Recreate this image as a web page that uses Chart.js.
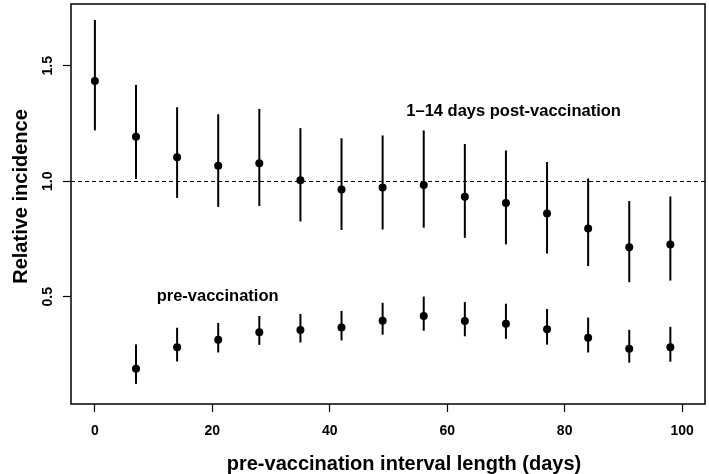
<!DOCTYPE html>
<html>
<head>
<meta charset="utf-8">
<script src="https://cdn.jsdelivr.net/npm/chart.js@4.4.1/dist/chart.umd.min.js"></script>
<style>
  html, body { margin: 0; padding: 0; background: #fff; }
  #wrap { width: 709px; height: 474px; }
</style>
</head>
<body>
<div id="wrap"><canvas id="cv"></canvas></div>
<script>
// interval lengths (days)
const postDays = [0, 7, 14, 21, 28, 35, 42, 49, 56, 63, 70, 77, 84, 91, 98];
const postEst  = [1.434, 1.193, 1.104, 1.067, 1.078, 1.004, 0.964, 0.973, 0.984, 0.933, 0.906, 0.860, 0.796, 0.714, 0.726];
const postLow  = [1.220, 1.010, 0.928, 0.889, 0.893, 0.826, 0.789, 0.791, 0.799, 0.755, 0.727, 0.687, 0.633, 0.563, 0.570];
const postHigh = [1.698, 1.417, 1.320, 1.290, 1.313, 1.230, 1.186, 1.198, 1.220, 1.161, 1.133, 1.083, 1.012, 0.914, 0.934];

const preDays = [7, 14, 21, 28, 35, 42, 49, 56, 63, 70, 77, 84, 91, 98];
const preEst  = [0.189, 0.282, 0.314, 0.347, 0.356, 0.367, 0.396, 0.417, 0.395, 0.383, 0.359, 0.323, 0.275, 0.282];
const preLow  = [0.123, 0.220, 0.259, 0.292, 0.302, 0.311, 0.336, 0.353, 0.329, 0.318, 0.293, 0.259, 0.215, 0.219];
const preHigh = [0.294, 0.366, 0.387, 0.417, 0.426, 0.439, 0.474, 0.501, 0.477, 0.470, 0.447, 0.410, 0.357, 0.370];

const xTicks = [0, 20, 40, 60, 80, 100];
const yTicks = [0.5, 1.0, 1.5];
const refLine = 1.0;

// text labels placed in data coordinates
const labels = [
  { text: '1\u201314 days post-vaccination', x: 71.3, y: 1.304 },
  { text: 'pre-vaccination', x: 20.9, y: 0.50 }
];

const FONT = '"Liberation Sans", Arial, Helvetica, sans-serif';

function pts(xs, ys, lo, hi) {
  return xs.map((x, i) => ({ x: x, y: ys[i], lo: lo[i], hi: hi[i] }));
}

// whiskers, dashed reference, box, labels, titles
const extras = {
  id: 'extras',
  beforeDatasetsDraw(chart) {
    const { ctx, chartArea: a, scales: { x, y } } = chart;
    ctx.save();
    // dashed line at 1.0
    ctx.strokeStyle = '#000';
    ctx.lineWidth = 1.2;
    ctx.setLineDash([4, 3]);
    ctx.beginPath();
    const yr = Math.round(y.getPixelForValue(refLine)) + 0.5;
    ctx.moveTo(a.left, yr);
    ctx.lineTo(a.right, yr);
    ctx.stroke();
    ctx.setLineDash([]);
    // whiskers
    ctx.lineWidth = 2;
    chart.data.datasets.forEach(ds => {
      ds.data.forEach(p => {
        const px = x.getPixelForValue(p.x);
        ctx.beginPath();
        ctx.moveTo(px, y.getPixelForValue(p.lo));
        ctx.lineTo(px, y.getPixelForValue(p.hi));
        ctx.stroke();
      });
    });
    ctx.restore();
  },
  afterDraw(chart) {
    const { ctx, chartArea: a, scales: { x, y } } = chart;
    ctx.save();
    // box
    ctx.strokeStyle = '#000';
    ctx.lineWidth = 1.5;
    ctx.strokeRect(a.left, a.top, a.right - a.left, a.bottom - a.top);
    ctx.fillStyle = '#000';
    // y tick labels (rotated, R style)
    ctx.font = 'bold 14px ' + FONT;
    ctx.textAlign = 'center';
    ctx.textBaseline = 'alphabetic';
    yTicks.forEach(v => {
      ctx.save();
      ctx.translate(52, y.getPixelForValue(v));
      ctx.rotate(-Math.PI / 2);
      ctx.fillText(v.toFixed(1), 0, 0);
      ctx.restore();
    });
    // in-plot labels
    ctx.font = 'bold 16.5px ' + FONT;
    ctx.textBaseline = 'middle';
    labels.forEach(l => {
      ctx.fillText(l.text, x.getPixelForValue(l.x), y.getPixelForValue(l.y));
    });
    // axis titles
    ctx.font = 'bold 20px ' + FONT;
    ctx.textBaseline = 'alphabetic';
    ctx.fillText('pre-vaccination interval length (days)', 404, 470);
    ctx.save();
    ctx.translate(27, 196.5);
    ctx.rotate(-Math.PI / 2);
    ctx.fillText('Relative incidence', 0, 0);
    ctx.restore();
    ctx.restore();
  }
};

new Chart(document.getElementById('cv'), {
  type: 'scatter',
  data: {
    datasets: [
      {
        label: '1-14 days post-vaccination',
        data: pts(postDays, postEst, postLow, postHigh),
        backgroundColor: '#000',
        borderColor: '#000',
        pointRadius: 4,
        pointBorderWidth: 0
      },
      {
        label: 'pre-vaccination',
        data: pts(preDays, preEst, preLow, preHigh),
        backgroundColor: '#000',
        borderColor: '#000',
        pointRadius: 4,
        pointBorderWidth: 0
      }
    ]
  },
  options: {
    responsive: true,
    maintainAspectRatio: false,
    animation: false,
    layout: { padding: { top: 1, right: 1.5, left: 0, bottom: 0 } },
    plugins: {
      legend: { display: false },
      tooltip: { enabled: false }
    },
    scales: {
      x: {
        type: 'linear',
        min: -4.07,
        max: 103.9,
        afterBuildTicks: s => { s.ticks = xTicks.map(v => ({ value: v })); },
        afterFit: s => { s.height = 70; },
        border: { display: false },
        grid: { drawOnChartArea: false, drawTicks: true, tickLength: 8, tickColor: '#000', tickWidth: 1.2 },
        ticks: {
          color: '#000',
          font: { family: FONT, size: 14, weight: 'bold' },
          padding: 11,
          maxRotation: 0
        }
      },
      y: {
        type: 'linear',
        min: 0.036,
        max: 1.767,
        afterBuildTicks: s => { s.ticks = yTicks.map(v => ({ value: v })); },
        afterFit: s => { s.width = 71; },
        border: { display: false },
        grid: { drawOnChartArea: false, drawTicks: true, tickLength: 8, tickColor: '#000', tickWidth: 1.2 },
        ticks: { display: false }
      }
    }
  },
  plugins: [extras]
});
</script>
</body>
</html>
